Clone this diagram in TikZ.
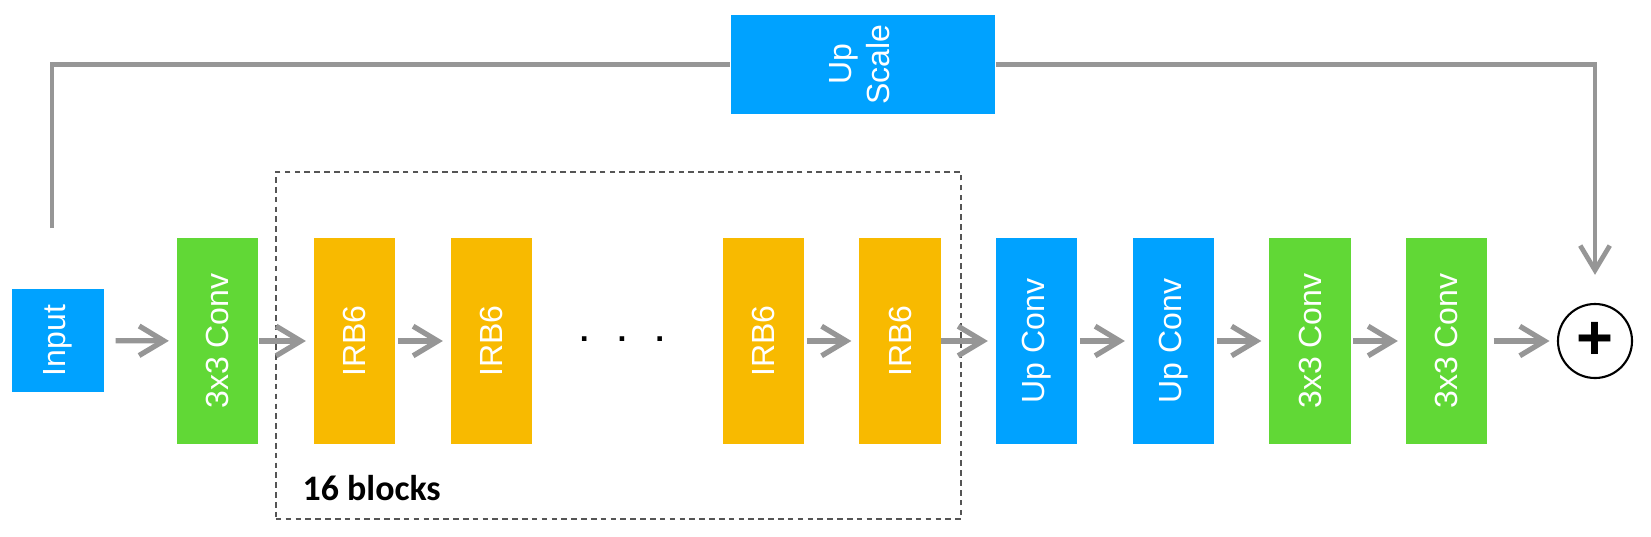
\documentclass[tikz,border=0pt]{standalone}
\usepackage{fontspec}
\setmainfont{Liberation Sans}
\newfontfamily\blockfont{Carlito}
\usetikzlibrary{arrows.meta,calc}
\definecolor{kblue}{RGB}{0,162,255}
\definecolor{kgreen}{RGB}{97,216,54}
\definecolor{korange}{RGB}{248,186,0}
\definecolor{kgray}{RGB}{150,150,150}
\definecolor{kdash}{RGB}{85,85,85}
\begin{document}
\begin{tikzpicture}[x=0.01cm,y=-0.01cm,
  boxbase/.style={inner sep=0pt, text=white, font=\fontsize{9.1}{10.6}\selectfont},
  layer/.style={boxbase, minimum width=23.05pt, minimum height=58.61pt},
  conv/.style={layer, fill=kgreen},
  irb/.style={layer, fill=korange},
  upc/.style={layer, fill=kblue},
  conn/.style={draw=kgray, line width=1.5pt, -{Straight Barb[length=7pt,width=8.4pt]}, shorten >=2.1pt},
  skipline/.style={draw=kgray, line width=1.35pt}
]
\useasboundingbox (0,0) rectangle (1651,536);

\node[boxbase, fill=kblue, minimum width=26.18pt, minimum height=29.31pt] (in) at (58,340.5) {\rotatebox{90}{Input}};
\node[conv] (c1) at (217.5,341) {\rotatebox{90}{3x3 Conv}};
\node[irb] (r1) at (354.5,341) {\rotatebox{90}{IRB6}};
\node[irb] (r2) at (491.5,341) {\rotatebox{90}{IRB6}};
\node[boxbase, text=black, font=\bfseries\fontsize{9.1}{10.6}\selectfont] (dots) at (622,339) {.\hspace{8.2pt}.\hspace{8.2pt}.};
\node[irb] (r3) at (763.5,341) {\rotatebox{90}{IRB6}};
\node[irb] (r4) at (900,341) {\rotatebox{90}{IRB6}};
\node[upc] (u1) at (1036.5,341) {\rotatebox{90}{Up Conv}};
\node[upc] (u2) at (1173.5,341) {\rotatebox{90}{Up Conv}};
\node[conv] (c2) at (1310,341) {\rotatebox{90}{3x3 Conv}};
\node[conv] (c3) at (1446.5,341) {\rotatebox{90}{3x3 Conv}};
\node[circle, draw=black, line width=0.6pt, minimum size=21.05pt, inner sep=0pt,
      font=\bfseries\fontsize{18}{18}\selectfont] (plus) at (1595,341) {+};

\node[boxbase, fill=kblue, minimum width=75.1pt, minimum height=28.17pt] (up) at (863,64.5)
  {\rotatebox{90}{\begin{tabular}{@{}c@{}}Up\\Scale\end{tabular}}};

\node[draw=kdash, dash pattern=on 1.6pt off 1.2pt, line width=0.45pt, inner sep=0pt,
      minimum width=194.9pt, minimum height=98.73pt] (grp) at (618.5,345.5) {};
\node[anchor=base west, inner sep=0pt, font=\blockfont\bfseries\fontsize{10.2}{12}\selectfont] (lbl) at (302,500) {16 blocks};

\draw[conn, shorten <=3.1pt] (in) -- (c1);
\draw[conn] (c1) -- (r1);
\draw[conn, shorten <=0.6pt] (r1) -- (r2);
\draw[conn, shorten <=0.6pt] (r3) -- (r4);
\draw[conn] (r4) -- (u1);
\draw[conn, shorten <=0.6pt] (u1) -- (u2);
\draw[conn, shorten <=0.6pt] (u2) -- (c2);
\draw[conn, shorten <=0.6pt] (c2) -- (c3);
\draw[conn, shorten <=1.7pt] (c3) -- (plus);

\coordinate (skip0) at (52,228);
\draw[skipline] (skip0) |- (up.west);
\draw[conn, line width=1.35pt, shorten >=8pt] (up.east) -| (plus.north);
\end{tikzpicture}
\end{document}
